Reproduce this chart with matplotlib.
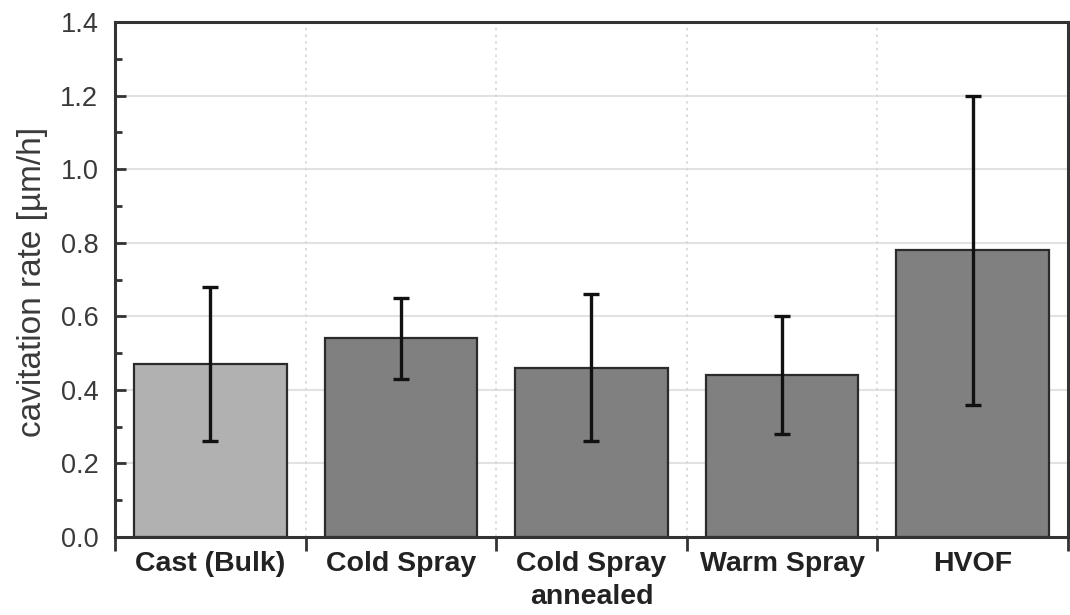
import matplotlib
matplotlib.use("Agg")
import matplotlib.pyplot as plt
import numpy as np

categories = ["Cast (Bulk)", "Cold Spray", "Cold Spray\nannealed", "Warm Spray", "HVOF"]
rates = [0.47, 0.54, 0.46, 0.44, 0.78]
errors = [0.21, 0.11, 0.20, 0.16, 0.42]
bar_colors = ["#b1b1b1", "#808080", "#808080", "#808080", "#808080"]

plt.rcParams["font.family"] = ["Liberation Sans", "DejaVu Sans"]

fig = plt.figure(figsize=(10.7, 6.15), dpi=100)
ax = fig.add_axes([0.1075, 0.1268, 0.8905, 0.8374])

x = np.arange(len(categories))
ax.bar(x, rates, width=0.8, color=bar_colors, edgecolor="#2b2b2b", linewidth=1.6, zorder=2)
ax.errorbar(x, rates, yerr=errors, fmt="none", ecolor="#111111", elinewidth=2.4,
            capsize=6, capthick=2.4, zorder=3)

ax.set_xlim(-0.5, len(categories) - 0.5)
ax.set_ylim(0, 1.4)

# y axis: major every 0.2, minor every 0.1, ticks pointing inward
ax.set_yticks(np.arange(0, 1.41, 0.2))
ax.set_yticks(np.arange(0.1, 1.4, 0.2), minor=True)
ax.set_yticklabels([f"{v:.1f}" for v in np.arange(0, 1.41, 0.2)])
ax.tick_params(axis="y", which="major", direction="in", length=8, width=2,
               color="#333333", labelsize=19.5, labelcolor="#3a3a3a", pad=12)
ax.tick_params(axis="y", which="minor", direction="in", length=5, width=2, color="#333333")

# x axis: boundary ticks below the axis, labels centred on bars
bounds = np.arange(0.5, len(categories) - 0.5, 1.0)
ax.set_xticks(np.concatenate([[-0.5], bounds, [len(categories) - 0.5]]))
ax.set_xticklabels([])
ax.set_xticks(x, minor=True)
ax.set_xticklabels(categories, minor=True, fontweight="bold", fontsize=20.5, color="#222222",
                   linespacing=1.35)
ax.tick_params(axis="x", which="major", direction="out", length=10, width=2, color="#333333")
ax.tick_params(axis="x", which="minor", length=0, pad=10)

# grid lines
for yv in np.arange(0.2, 1.4, 0.2):
    ax.axhline(yv, color="#e2e2e2", linewidth=1.5, zorder=0)
for xv in bounds:
    ax.axvline(xv, color="#d6d6d6", linewidth=1.2, linestyle=(0, (1.5, 2.5)), zorder=0)

for s in ax.spines.values():
    s.set_linewidth(2.2)
    s.set_color("#333333")

ax.set_ylabel("cavitation rate [µm/h]", fontsize=24, color="#3a3a3a")
ax.yaxis.set_label_coords(-0.07, 0.495)

fig.savefig("out.png", dpi=100)
